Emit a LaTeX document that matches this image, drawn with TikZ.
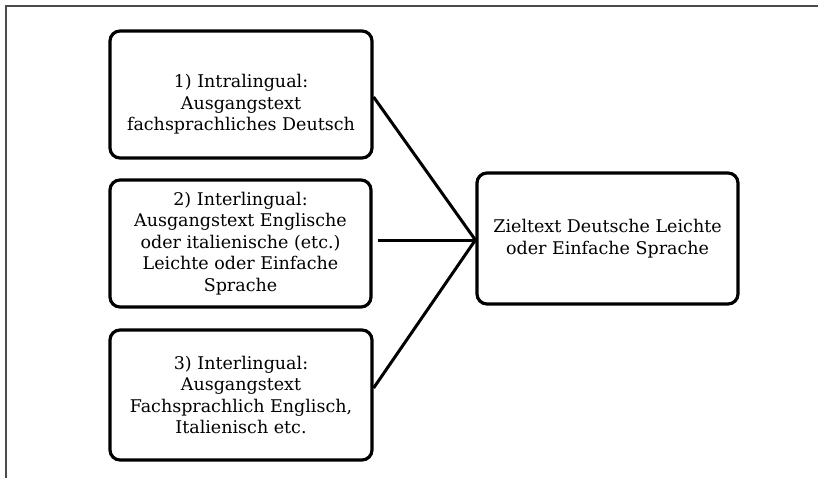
\documentclass[tikz,border=0pt]{standalone}
\usepackage{fontspec}
\setmainfont{DejaVu Serif}
\begin{document}
\begin{tikzpicture}[x=1pt,y={(0pt,-1pt)}]

        \useasboundingbox (0,0) rectangle (818,478);
        \draw[line width=1.2pt, black!70] (6,478) -- (6,6) -- (818,6);

        \begin{scope}[every node/.style={draw, line width=3.2pt, rounded corners=10pt, align=center,
            font=\fontsize{17.5}{21.5}\selectfont, inner sep=0pt},
            every label/.style={draw=none, align=center, font=\fontsize{17.5}{21.5}\selectfont}]
          \node[minimum width=262pt, minimum height=127pt,
            label={[yshift=-10pt]center:1) Intralingual:\\Ausgangstext\\fachsprachliches Deutsch}]
            (quelle1) at (241,94.5) {};
          \node[minimum width=261pt, minimum height=127pt] (quelle2) at (240.5,243.5)
            {2) Interlingual:\\Ausgangstext Englische\\oder italienische (etc.)\\Leichte oder Einfache\\Sprache};
          \node[minimum width=262pt, minimum height=130pt] (quelle3) at (241,395)
            {3) Interlingual:\\Ausgangstext\\Fachsprachlich Englisch,\\Italienisch etc.};
          \node[minimum width=261pt, minimum height=131pt] (ziel) at (607.5,238.5)
            {Zieltext Deutsche Leichte\\oder Einfache Sprache};
        \end{scope}

        \coordinate (mitte) at ([yshift=-1.5pt]ziel.west);

        \begin{scope}[every edge/.style={draw, line width=3pt}]
          \path ([yshift=-2.5pt]quelle1.east) edge (mitte);
          \path ([xshift=5pt]quelle2.east |- mitte) edge (mitte);
          \path ([yshift=7pt]quelle3.east) edge (mitte);
        \end{scope}

      \end{tikzpicture}
\end{document}
